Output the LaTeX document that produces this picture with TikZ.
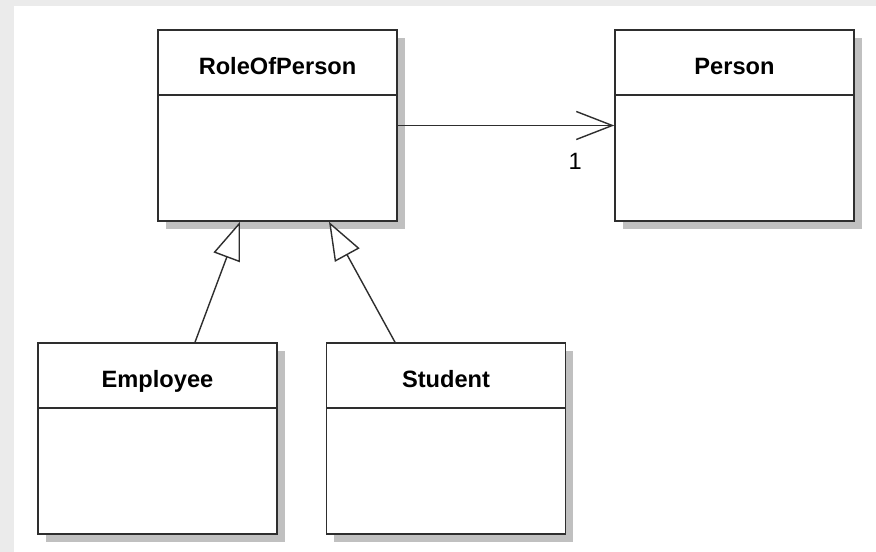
\documentclass[tikz,border=0pt]{standalone}
\usepackage{fontspec}
\setmainfont{Liberation Sans}
\usepackage{tikz}
\definecolor{frameGray}{HTML}{EBEBEB}
\definecolor{shadowGray}{HTML}{C0C0C0}
\definecolor{lineGray}{HTML}{2E2E2E}
\usetikzlibrary{positioning}
\usetikzlibrary{shadows}
\usetikzlibrary{arrows.meta}
\tikzset{
    classbox/.style={draw=lineGray, line width=0.04cm, fill=white,
        minimum width=5.975cm, minimum height=4.775cm, inner sep=0pt,
        drop shadow={shadow xshift=0.19cm, shadow yshift=-0.19cm, fill=shadowGray, opacity=1}},
    classname/.style={draw=lineGray, line width=0.04cm, fill=white,
        minimum width=5.975cm, minimum height=1.625cm, inner sep=0pt,
        text height=0.6cm, text depth=0pt,
        font=\bfseries\fontsize{16.8}{20}\selectfont},
    assoc/.style={draw=lineGray, line width=0.035cm, -{Straight Barb[length=0.9cm,width=0.7cm,line width=0.035cm]}},
    gen/.style={draw=lineGray, line width=0.035cm, -{Triangle[open,length=0.95cm,width=0.7cm,fill=white,line width=0.035cm]}}
}

\begin{document}
\begin{tikzpicture}
        \fill[frameGray] (0, 0) rectangle (21.9, 13.8);
        \fill[white]  (0.35, 0) rectangle (21.9, 13.65);

        \node[classbox] (role)    at ( 6.9375, 10.6625) {};
        \node[classbox] (person)  at (18.3625, 10.6625) {};
        \node[classbox] (emp)     at ( 3.9375,  2.8375) {};
        \node[classbox] (student) at (11.15  ,  2.8375) {};

        \node[classname, below=0pt of role.north]    (roleName)    {RoleOfPerson};
        \node[classname, below=0pt of person.north]  (personName)  {Person};
        \node[classname, below=0pt of emp.north]     (empName)     {Employee};
        \node[classname, below=0pt of student.north] (studentName) {Student};

        \draw[assoc] (role) -- (person)
            node[pos=0.82, yshift=-0.9cm, font=\fontsize{16.8}{20}\selectfont] (mult) {1};

        \draw[gen] ([xshift= 0.9375cm]emp.north)     -- ([xshift=-0.9375cm]role.south);
        \draw[gen] ([xshift=-1.275cm]student.north) -- ([xshift= 1.2875cm]role.south);
    \end{tikzpicture}
\end{document}
